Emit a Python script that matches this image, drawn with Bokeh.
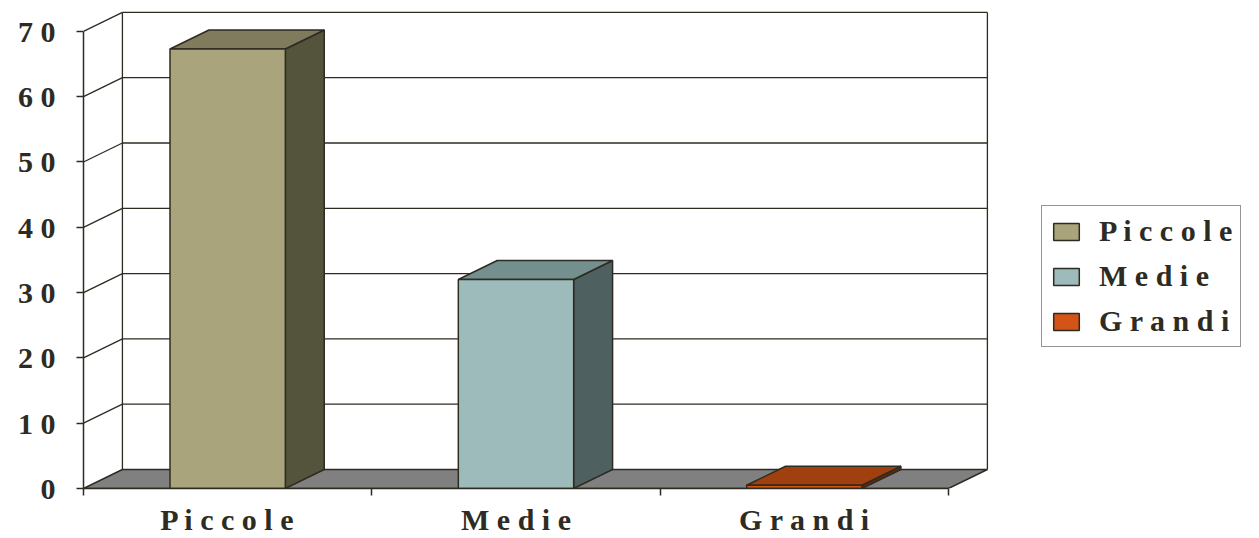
from bokeh.plotting import figure
from bokeh.models import Range1d, FixedTicker, Legend, LegendItem, ColumnDataSource
from bokeh.embed import file_html
from bokeh.resources import INLINE

categories = ["Piccole", "Medie", "Grandi"]
values = [67.3, 32.0, 0.5]
y_ticks = [0, 10, 20, 30, 40, 50, 60, 70]
front_colors = ["#A9A47B", "#9EBBBB", "#D35416"]
top_colors = ["#7F7B5C", "#738F8E", "#A0400F"]
side_colors = ["#54533C", "#4E605F", "#6A2A0A"]

def spaced(s):
    return " ".join(list(s))

INK = "#2E2B22"
FONT = "Liberation Serif"
dx = 0.135   # depth offset in category units
dy = 2.91    # depth offset in value units
bw = 0.4

p = figure(width=1259, height=538, x_range=Range1d(0, 4.0787), y_range=Range1d(0, 73.2),
           output_backend="svg", toolbar_location=None,
           min_border_left=83, min_border_right=0, min_border_top=10, min_border_bottom=50)
p.xgrid.visible = False
p.ygrid.visible = False
p.outline_line_color = None
p.background_fill_color = "white"

# walls
n = len(categories)
hx = [[dx, n + dx] for v in y_ticks[1:]]
hy = [[v + dy, v + dy] for v in y_ticks[1:]]
p.multi_line(hx, hy, line_color=INK, line_width=1.3)
gx = [[0, dx] for v in y_ticks[1:]]
gy = [[v, v + dy] for v in y_ticks[1:]]
p.multi_line(gx, gy, line_color=INK, line_width=1.3)
p.multi_line([[dx, dx], [n + dx, n + dx]], [[dy, y_ticks[-1] + dy], [dy, y_ticks[-1] + dy]],
             line_color=INK, line_width=1.3)

# floor
p.patch([0, n, n + dx, dx], [0, 0, dy, dy], fill_color="#808080", line_color=INK, line_width=1.5)

# bars
centers = [i + 0.5 for i in range(n)]
lefts = [c - bw / 2 for c in centers]
rights = [c + bw / 2 for c in centers]
side_xs = [[r, r + dx, r + dx, r] for r in rights]
side_ys = [[0, dy, v + dy, v] for v in values]
p.patches(side_xs, side_ys, fill_color=side_colors, line_color=INK, line_width=1.5)
top_xs = [[l, r, r + dx, l + dx] for l, r in zip(lefts, rights)]
top_ys = [[v, v, v + dy, v + dy] for v in values]
p.patches(top_xs, top_ys, fill_color=top_colors, line_color=INK, line_width=1.5)
src = ColumnDataSource(dict(left=lefts, right=rights, top=values, bottom=[0] * n, color=front_colors))
front = p.quad(left="left", right="right", top="top", bottom="bottom", source=src,
               fill_color="color", line_color=INK, line_width=1.5)

# axes
ya = p.yaxis[0]
ya.ticker = FixedTicker(ticks=y_ticks, minor_ticks=[])
ya.bounds = (0, 70)
ya.major_label_overrides = {v: spaced(str(v)) for v in y_ticks}
ya.major_tick_out = 7
ya.major_tick_in = 0
ya.axis_line_color = INK
ya.axis_line_width = 1.5
ya.major_tick_line_color = INK
ya.major_tick_line_width = 1.5
ya.major_label_text_font = FONT
ya.major_label_text_font_style = "bold"
ya.major_label_text_font_size = "30px"
ya.major_label_text_color = INK
ya.major_label_standoff = 21

xa = p.xaxis[0]
xa.ticker = FixedTicker(ticks=centers, minor_ticks=list(range(n + 1)))
xa.bounds = (0, n)
xa.major_label_overrides = {c: spaced(cat) for c, cat in zip(centers, categories)}
xa.axis_line_color = INK
xa.axis_line_width = 1.5
xa.major_tick_out = 0
xa.major_tick_in = 0
xa.minor_tick_out = 7
xa.minor_tick_in = 0
xa.minor_tick_line_color = INK
xa.minor_tick_line_width = 1.5
xa.major_label_text_font = FONT
xa.major_label_text_font_style = "bold"
xa.major_label_text_font_size = "30px"
xa.major_label_text_color = INK
xa.major_label_standoff = 7

items = [LegendItem(label=spaced(cat), renderers=[front], index=i) for i, cat in enumerate(categories)]
legend = Legend(items=items, location=(958, 141))
legend.label_text_font = FONT
legend.label_text_font_style = "bold"
legend.label_text_font_size = "30px"
legend.label_text_color = INK
legend.glyph_width = 32
legend.glyph_height = 21
legend.label_standoff = 17
legend.spacing = 11
legend.padding = 8
legend.margin = 0
legend.border_line_color = INK
legend.border_line_width = 1.5
legend.background_fill_color = "white"
legend.background_fill_alpha = 1.0
p.add_layout(legend)

open("out.html", "w").write(file_html(p, INLINE))
